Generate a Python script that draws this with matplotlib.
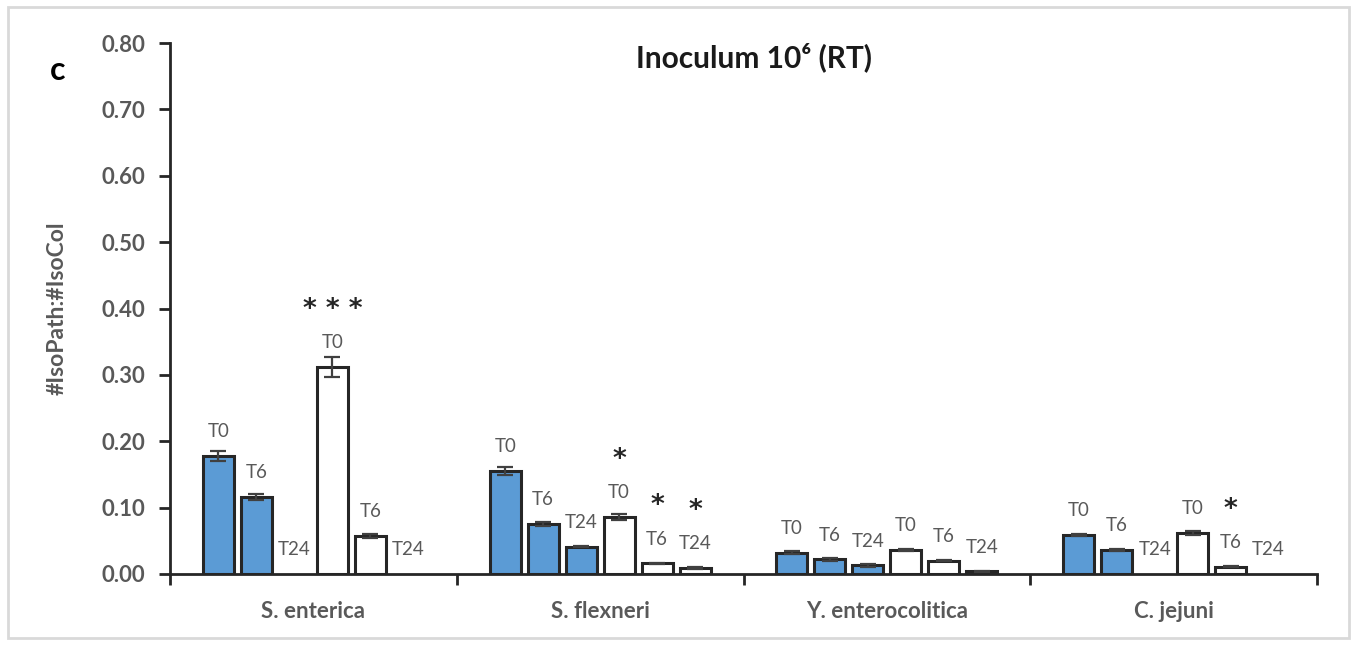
import matplotlib.pyplot as plt
import numpy as np
from matplotlib.patches import Rectangle

plt.rcParams['font.family'] = ['Lato', 'DejaVu Sans']

pathogens = ['S. enterica', 'S. flexneri', 'Y. enterocolitica', 'C. jejuni']
times = ['T0', 'T6', 'T24']

# ratio per pathogen and time point, two conditions (filled / open bars)
blue_vals = [[0.178, 0.116, 0.0],
             [0.155, 0.075, 0.041],
             [0.032, 0.022, 0.013],
             [0.059, 0.036, 0.0]]
blue_err = [[0.008, 0.004, 0.0],
            [0.006, 0.003, 0.001],
            [0.002, 0.002, 0.002],
            [0.002, 0.002, 0.0]]
white_vals = [[0.312, 0.057, 0.0],
              [0.086, 0.016, 0.009],
              [0.036, 0.020, 0.004],
              [0.062, 0.011, 0.0]]
white_err = [[0.015, 0.003, 0.0],
             [0.004, 0.001, 0.001],
             [0.002, 0.001, 0.001],
             [0.003, 0.001, 0.0]]
# significance marks on the open bars
white_sig = [['***', '', ''],
             ['*', '*', '*'],
             ['', '', ''],
             ['', '*', '']]

fig = plt.figure(figsize=(13.51, 6.45), dpi=100)
fig.patches.append(Rectangle((8 / 1351, 1 - 638 / 645), 1341 / 1351, 631 / 645,
                             transform=fig.transFigure, fill=False,
                             edgecolor='#d9d9d9', linewidth=2))
ax = fig.add_axes([170 / 1351, 1 - 574 / 645, 1147 / 1351, 531 / 645])

pitch = 0.1324
width = 0.108
label_gray = '#595959'

for g in range(len(pathogens)):
    center = g + 0.5
    for k in range(6):
        x = center + (k - 2.5) * pitch
        if k < 3:
            v, e, face, sig = blue_vals[g][k], blue_err[g][k], '#5b9bd5', ''
        else:
            v, e, face, sig = white_vals[g][k - 3], white_err[g][k - 3], 'white', white_sig[g][k - 3]
        if v > 0:
            ax.bar(x, v, width, color=face, edgecolor='#262626', linewidth=2.2, zorder=2)
            ax.errorbar(x, v, yerr=e, fmt='none', ecolor='#404040', elinewidth=1.6,
                        capsize=6, capthick=1.6, zorder=3)
        ax.annotate(times[k % 3], (x, v), xytext=(0, 17.5), textcoords='offset points',
                    ha='center', va='center', fontsize=13.5, color=label_gray)
        if sig:
            ax.annotate(' '.join(sig), (x, v), xytext=(0, 41), textcoords='offset points',
                        ha='center', va='center', fontsize=19, color='#262626',
                        fontweight='bold', fontfamily='DejaVu Sans')

ax.set_xlim(0, 4)
ax.set_ylim(0, 0.8)
ax.set_yticks(np.arange(0, 0.81, 0.1))
ax.set_yticklabels([f'{t:.2f}' for t in np.arange(0, 0.81, 0.1)],
                   fontsize=16, fontweight='bold', color=label_gray)
ax.set_xticks([0, 1, 2, 3, 4])
ax.set_xticklabels([])
ax.tick_params(axis='y', length=8, width=2, color='#262626', pad=10)
ax.tick_params(axis='x', length=8, width=2, color='#262626')
for i, name in enumerate(pathogens):
    ax.text(i + 0.5, -0.056, name, ha='center', va='center', fontsize=16,
            fontweight='bold', color=label_gray)

for side in ['top', 'right']:
    ax.spines[side].set_visible(False)
for side in ['left', 'bottom']:
    ax.spines[side].set_linewidth(2)
    ax.spines[side].set_color('#262626')

ax.set_ylabel('#IsoPath:#IsoCol', fontsize=16.5, fontweight='bold', color=label_gray)
ax.yaxis.set_label_coords(-0.089, 0.5)
fig.text(754 / 1351, 1 - 57 / 645, 'Inoculum 10\u2076 (RT)', ha='center',
         va='center', fontsize=21.5, fontweight='bold', color='#1a1a1a')
fig.text(58 / 1351, 1 - 70 / 645, 'c', ha='center', va='center', fontsize=23,
         fontweight='bold', color='black')

plt.savefig('out.png', dpi=100)
